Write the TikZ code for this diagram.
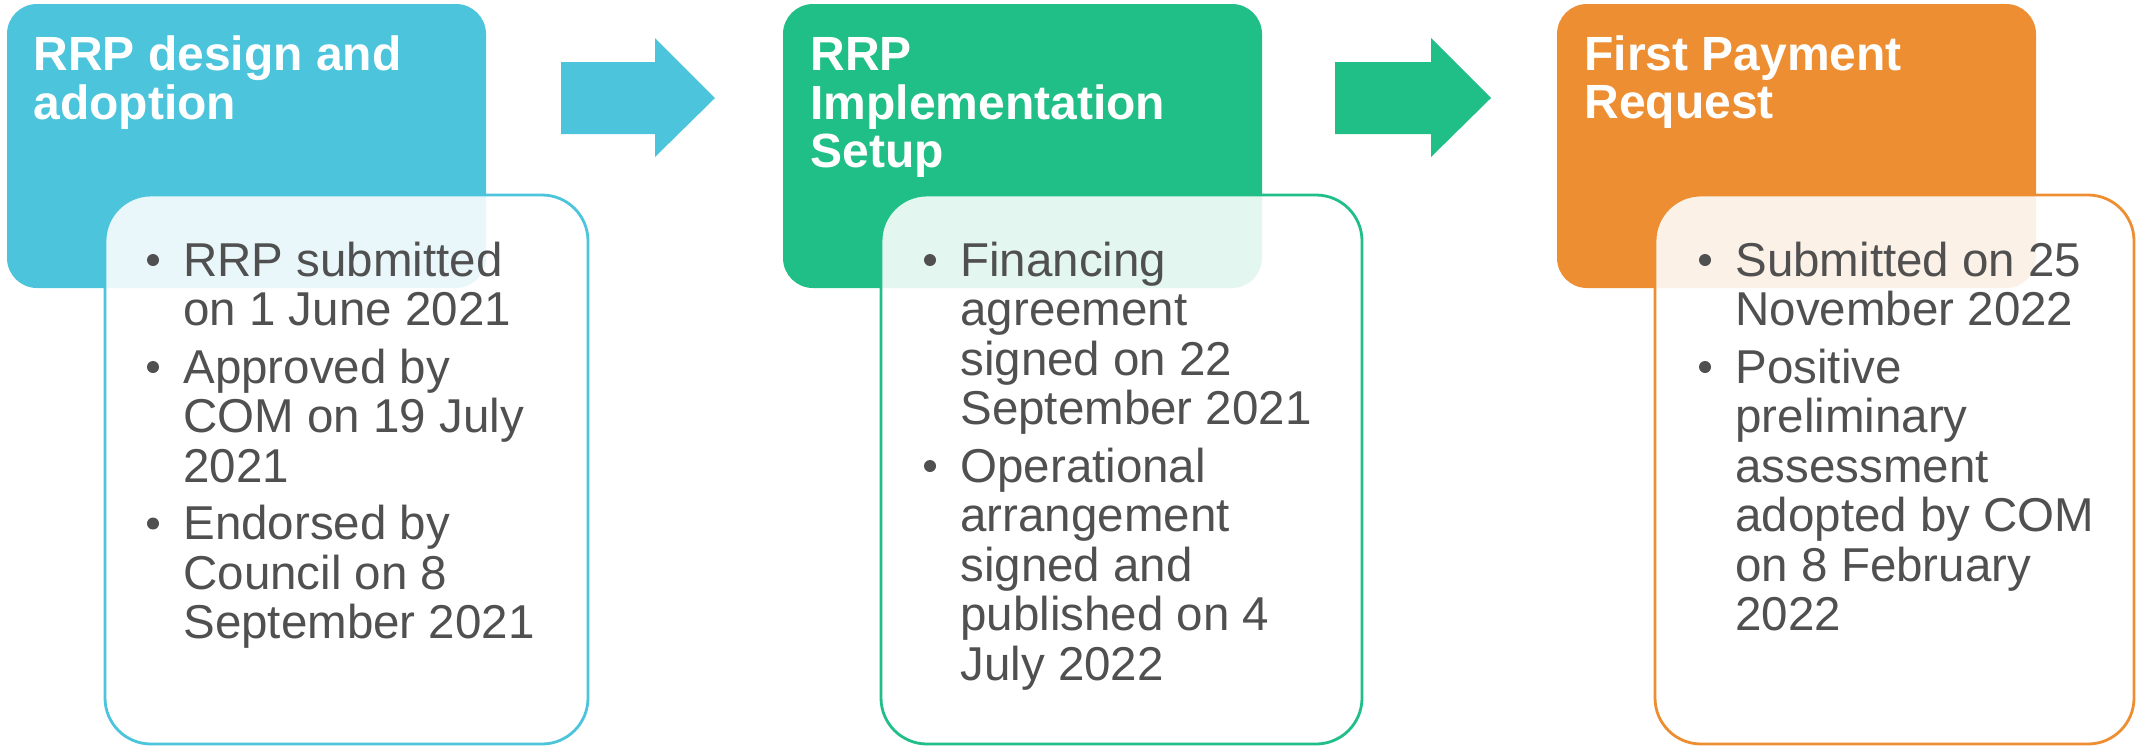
\documentclass[tikz,border=0pt]{standalone}
\usepackage{fontspec}
\setmainfont{Liberation Sans}
\usepackage{tikz}
\definecolor{rrpblue}{HTML}{4BC4DC}
\definecolor{rrpgreen}{HTML}{20BF88}
\definecolor{rrporange}{HTML}{ED8E32}
\definecolor{txtgray}{HTML}{505050}
\newcommand{\rrplines}[1]{\begin{tabular}[t]{@{}l@{}}#1\end{tabular}}

\begin{document}
\begin{tikzpicture}[x=0.5pt,y=-0.5pt,
	head/.style={anchor=base west, inner sep=0, text=white, font=\fontsize{24}{24.25}\selectfont\bfseries},
	item/.style={anchor=base west, inner sep=0, text=txtgray, font=\fontsize{23.75}{24.75}\selectfont},
	card/.style={rounded corners=15pt},
	note/.style={rounded corners=23pt, line width=1.4pt, fill=white, fill opacity=0.88}]
	%\draw [help lines] (0,0) grid (2136,746);
	\useasboundingbox (0,0) rectangle (2136,746);

	% RRP design and adoption
	\fill [card, rrpblue] (7,4) rectangle (486,288);
	\draw [note, draw=rrpblue] (105,195) rectangle (588,744);
	\node [head] (t1) at (33,70) {\rrplines{RRP design and\\adoption}};
	\node [item] (b1a) at (183,276) {\rrplines{RRP submitted\\on 1 June 2021}};
	\node [item] (b1b) at (183,383) {\rrplines{Approved by\\COM on 19 July\\2021}};
	\node [item] (b1c) at (183,539.5) {\rrplines{Endorsed by\\Council on 8\\September 2021}};
	\fill [rrpblue] (561,62) -- (655,62) -- (655,38) -- (715,98) -- (655,157) -- (655,134) -- (561,134) -- cycle;

	% RRP implementation setup
	\fill [card, rrpgreen] (783,4) rectangle (1262,288);
	\draw [note, draw=rrpgreen] (881,195) rectangle (1362,744);
	\node [head] (t2) at (810,70) {\rrplines{RRP\\Implementation\\Setup}};
	\node [item] (b2a) at (960,276) {\rrplines{Financing\\agreement\\signed on 22\\September 2021}};
	\node [item] (b2b) at (960,482) {\rrplines{Operational\\arrangement\\signed and\\published on 4\\July 2022}};
	\fill [rrpgreen] (1335,62) -- (1431,62) -- (1431,38) -- (1491,98) -- (1431,157) -- (1431,134) -- (1335,134) -- cycle;

	% first payment request
	\fill [card, rrporange] (1557,4) rectangle (2036,288);
	\draw [note, draw=rrporange] (1655,195) rectangle (2134,744);
	\node [head] (t3) at (1584,70) {\rrplines{First Payment\\Request}};
	\node [item] (b3a) at (1735,276) {\rrplines{Submitted on 25\\November 2022}};
	\node [item] (b3b) at (1735,383) {\rrplines{Positive\\preliminary\\assessment\\adopted by COM\\on 8 February\\2022}};

	% bullets
	\fill [txtgray] ([shift={(-30,-16)}]b1a.base west) circle (3pt);
	\fill [txtgray] ([shift={(-30,-16)}]b1b.base west) circle (3pt);
	\fill [txtgray] ([shift={(-30,-16)}]b1c.base west) circle (3pt);
	\fill [txtgray] ([shift={(-30,-16)}]b2a.base west) circle (3pt);
	\fill [txtgray] ([shift={(-30,-16)}]b2b.base west) circle (3pt);
	\fill [txtgray] ([shift={(-30,-16)}]b3a.base west) circle (3pt);
	\fill [txtgray] ([shift={(-30,-16)}]b3b.base west) circle (3pt);
\end{tikzpicture}
\end{document}
